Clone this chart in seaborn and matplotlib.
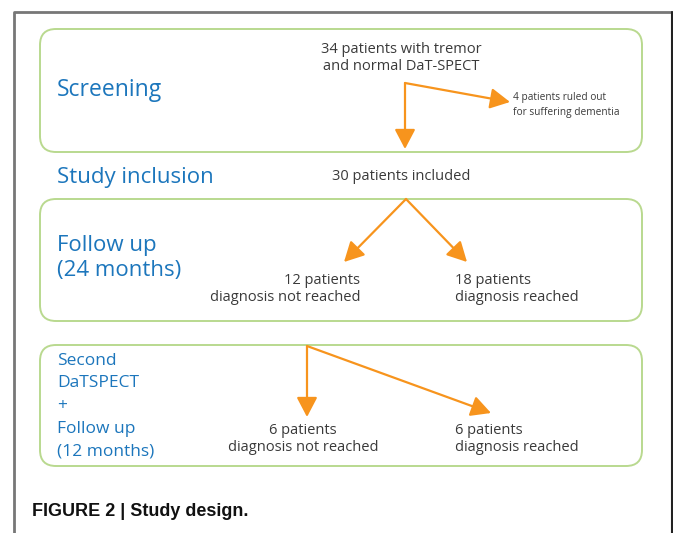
import matplotlib
matplotlib.use("Agg")
import matplotlib.pyplot as plt
import seaborn as sns
import pandas as pd
from matplotlib.patches import FancyBboxPatch

# --- chart content -------------------------------------------------------
stages = ["Screening", "Study inclusion", "Follow up\n(24 months)",
          "Second\nDaTSPECT\n+\nFollow up\n(12 months)"]
n_screened = 34
n_excluded = 4
n_included = 30
n_fu1 = [12, 18]     # not reached, reached
n_fu2 = [6, 6]       # not reached, reached
outcomes = ["diagnosis not reached", "diagnosis reached"]
caption = "FIGURE 2 | Study design."

# --- style ---------------------------------------------------------------
sns.set_theme(style="white")
plt.rcParams["font.family"] = ["Open Sans", "DejaVu Sans"]
BLUE = "#1c76bc"
GREY = "#3a3a3a"
ORANGE = "#f7941d"
GREEN = "#b9d98f"

fig = plt.figure(figsize=(6.73, 5.33), dpi=100)
ax = fig.add_axes([0, 0, 1, 1])
ax.set_xlim(0, 673)
ax.set_ylim(533, 0)
ax.axis("off")

# outer frame (top, left gray; right dark)
frame = pd.DataFrame({"x": [14, 14, 672], "y": [533, 12, 12]})
sns.lineplot(data=frame, x="x", y="y", sort=False, color="#777777",
             lw=2, ax=ax, estimator=None)
ax.plot([672, 672], [12, 533], color="#222222", lw=1.5)

# green rounded boxes
boxes = [(40, 29, 602, 123), (40, 199, 602, 122), (40, 345, 602, 121)]
for x, y, w, h in boxes:
    ax.add_patch(FancyBboxPatch((x, y), w, h,
                                boxstyle="round,pad=0,rounding_size=16",
                                fc="white", ec=GREEN, lw=1.4))

# stage headings
ax.text(57, 90, stages[0], color=BLUE, fontsize=16.5, ha="left", va="center")
ax.text(57, 177, stages[1], color=BLUE, fontsize=16, ha="left", va="center")
ax.text(57, 258, stages[2], color=BLUE, fontsize=16, ha="left", va="center",
        linespacing=1.2)
ax.text(57, 406, stages[3], color=BLUE, fontsize=12.5, ha="left", va="center",
        linespacing=1.55)


def arrow(p0, p1):
    ax.annotate("", xy=p1, xytext=p0,
                arrowprops=dict(arrowstyle="-|>,head_length=0.8,head_width=0.42",
                                color=ORANGE, lw=1.6, mutation_scale=15,
                                shrinkA=0, shrinkB=0))


# screening
ax.text(401, 58, f"{n_screened} patients with tremor\nand normal DaT-SPECT",
        color=GREY, fontsize=10.5, ha="center", va="center", linespacing=1.2)
arrow((405, 83), (405, 149))
arrow((405, 83), (510, 102))
ax.text(513, 105, f"{n_excluded} patients ruled out\nfor suffering dementia",
        color=GREY, fontsize=7.3, ha="left", va="center", linespacing=1.5)

# inclusion
ax.text(401, 176, f"{n_included} patients included", color=GREY, fontsize=10.5,
        ha="center", va="center")

# follow up 24 months
arrow((406, 199), (344, 262))
arrow((406, 199), (467, 262))
ax.text(360, 289, f"{n_fu1[0]} patients\n{outcomes[0]}", color=GREY, fontsize=10.5,
        ha="right", va="center", multialignment="right", linespacing=1.2)
ax.text(455, 289, f"{n_fu1[1]} patients\n{outcomes[1]}", color=GREY, fontsize=10.5,
        ha="left", va="center", linespacing=1.2)

# second DaTSPECT + follow up 12 months
arrow((307, 346), (307, 417))
arrow((307, 346), (491, 413))
ax.text(303, 439, f"{n_fu2[0]} patients\n{outcomes[0]}", color=GREY, fontsize=10.5,
        ha="center", va="center", linespacing=1.2)
ax.text(455, 439, f"{n_fu2[1]} patients\n{outcomes[1]}", color=GREY, fontsize=10.5,
        ha="left", va="center", linespacing=1.2)

# caption
ax.text(32, 512, caption, fontsize=13, fontweight="bold", color="#111111",
        family=["Liberation Sans", "DejaVu Sans"], ha="left", va="center")

fig.savefig("out.png", dpi=100)
